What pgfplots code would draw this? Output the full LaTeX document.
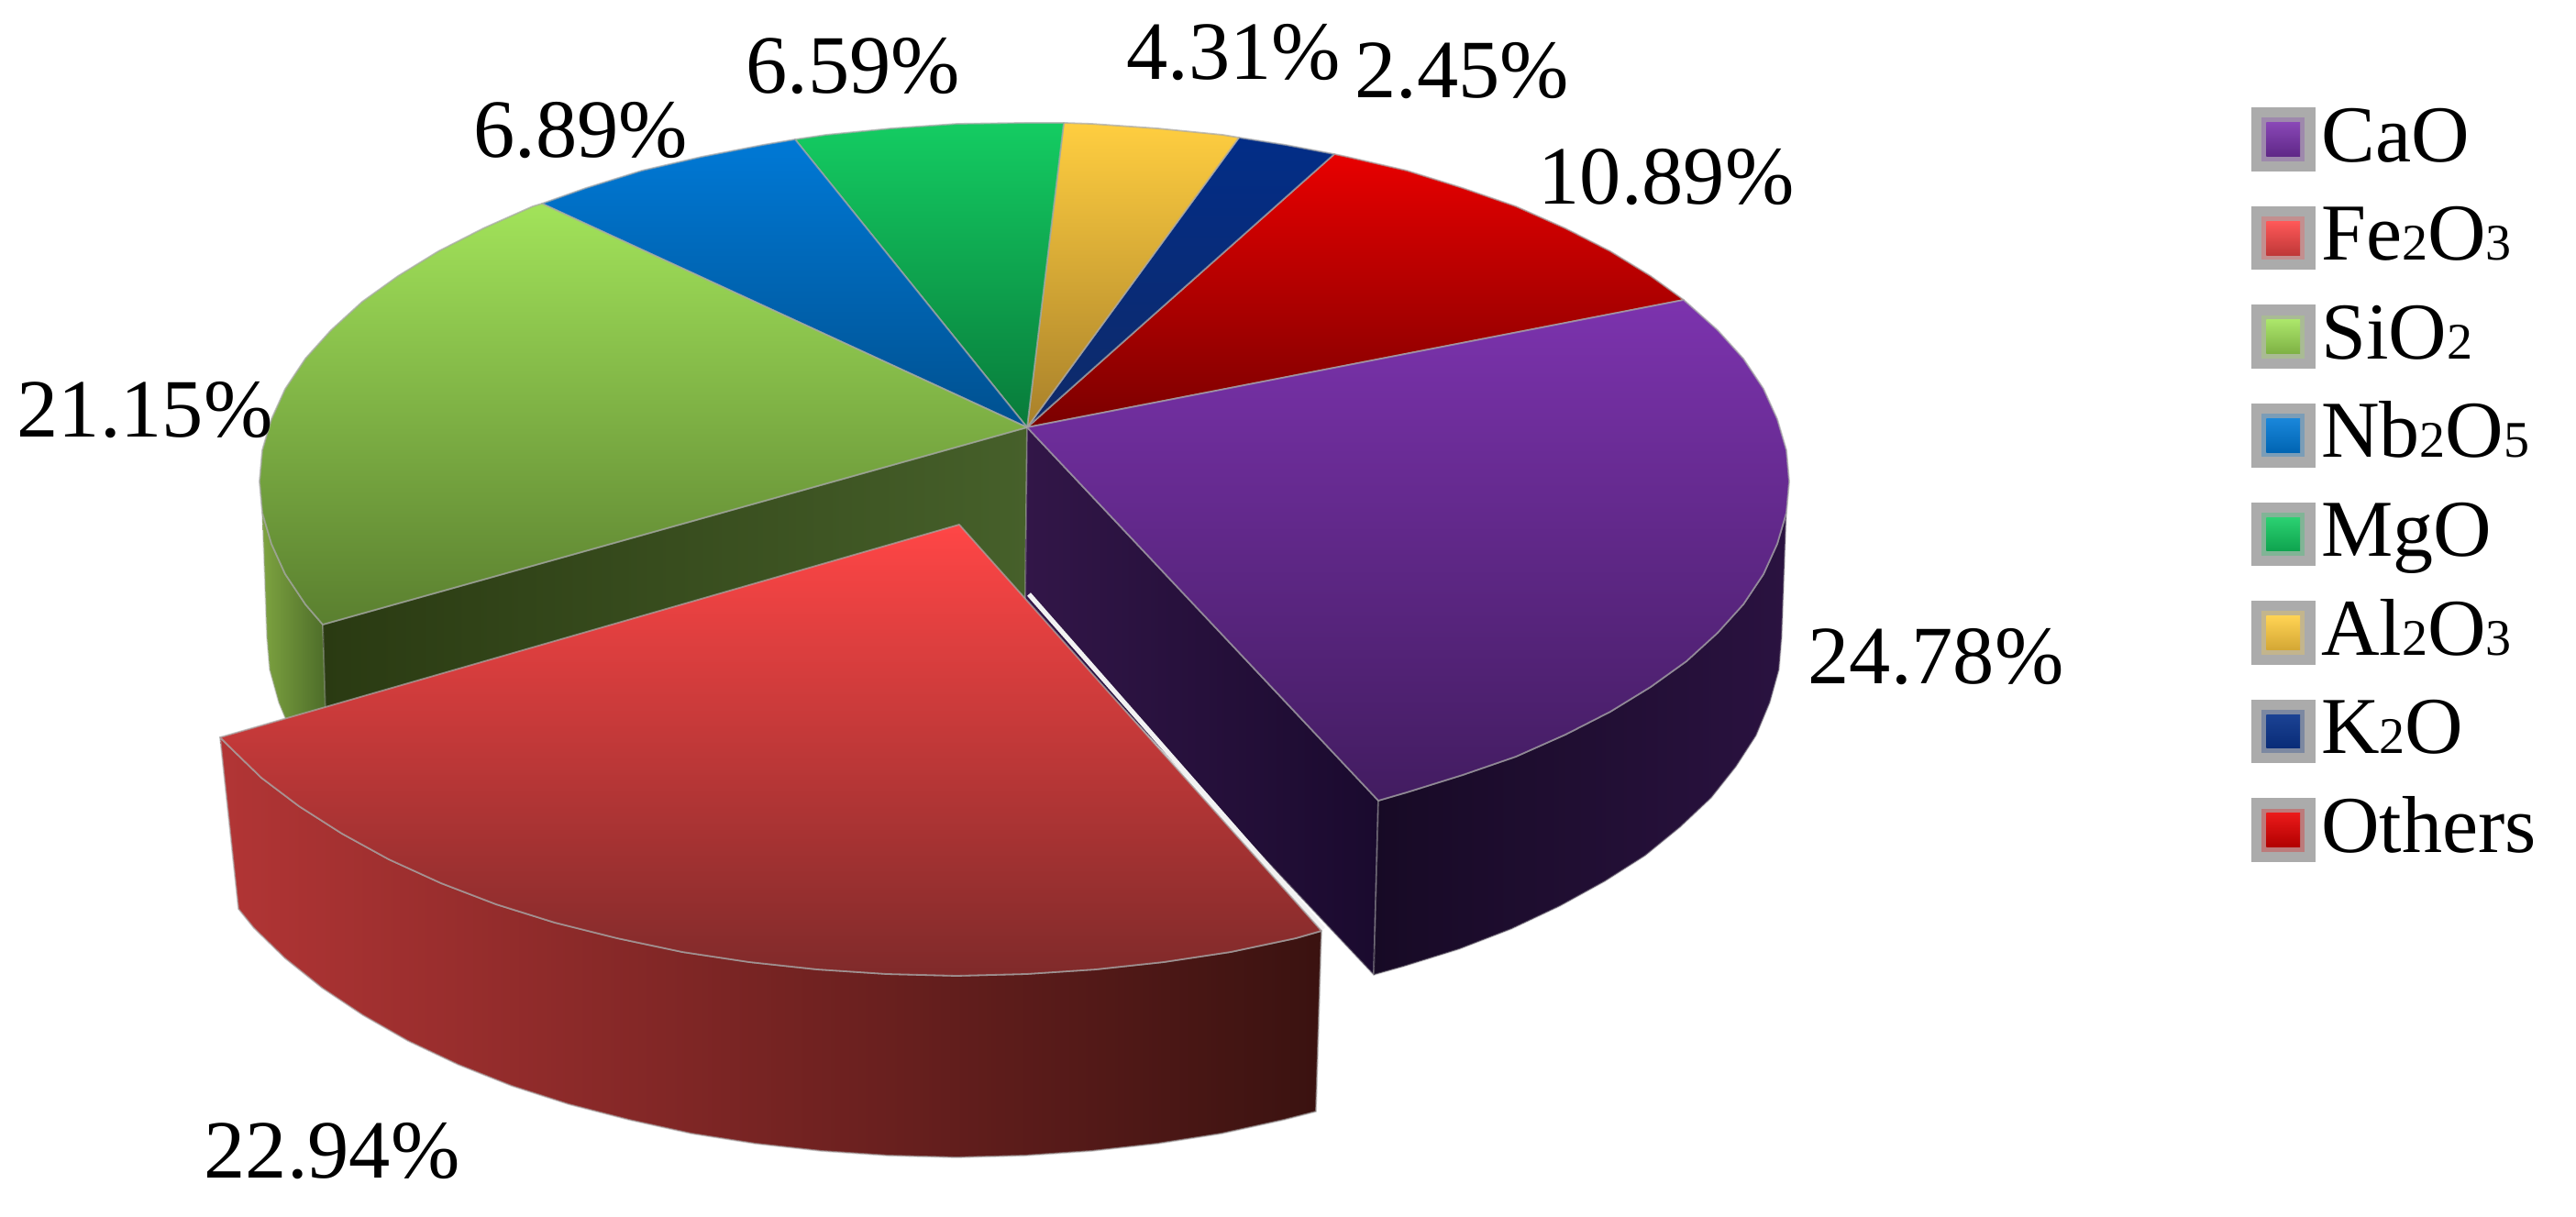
\documentclass[border=0pt]{standalone}
\usepackage{fontspec}
\setmainfont{Liberation Serif}
\usepackage{pgfplots}
\pgfplotsset{compat=1.18}
\definecolor{edge}{HTML}{A8A8A8}
\definecolor{swg}{HTML}{ABABAB}
\definecolor{caoA}{HTML}{7C33AE}\definecolor{caoB}{HTML}{421C60}
\definecolor{feA}{HTML}{FF4646}\definecolor{feB}{HTML}{7F2A2A}
\definecolor{siA}{HTML}{A2E35A}\definecolor{siB}{HTML}{5A7F2F}
\definecolor{nbA}{HTML}{0079D6}\definecolor{nbB}{HTML}{00508F}
\definecolor{mgA}{HTML}{14CC62}\definecolor{mgB}{HTML}{087A3A}
\definecolor{alA}{HTML}{FFCE40}\definecolor{alB}{HTML}{A8802A}
\definecolor{kA}{HTML}{022D87}\definecolor{kB}{HTML}{0F2A68}
\definecolor{otA}{HTML}{E80000}\definecolor{otB}{HTML}{7A0000}
\definecolor{w1}{HTML}{7DA340}\definecolor{w2}{HTML}{648A36}\definecolor{w3}{HTML}{4B6A28}
\definecolor{d1}{HTML}{2A3A12}\definecolor{d2}{HTML}{384D1C}\definecolor{d3}{HTML}{46602A}
\definecolor{r1}{HTML}{321648}\definecolor{r2}{HTML}{26103C}\definecolor{r3}{HTML}{1A0A2E}
\definecolor{o1}{HTML}{170A25}\definecolor{o2}{HTML}{1F0E32}\definecolor{o3}{HTML}{2A1240}
\definecolor{f1}{HTML}{B23535}\definecolor{f2}{HTML}{4C1818}\definecolor{f3}{HTML}{3A1210}
\newcommand{\lab}{\fontsize{22.6}{22.6}\selectfont}
\newcommand{\leg}{\fontsize{22}{22}\selectfont}
\newcommand{\sbs}[1]{{\fontsize{14}{14}\selectfont #1}}
\pgfplotsset{
  slice/.style 2 args={forget plot,draw=edge,draw opacity=.7,line width=.45pt,line join=round,top color=#1,bottom color=#2},
  wall/.style n args={3}{forget plot,draw=edge,draw opacity=.4,line width=.45pt,line join=round,left color=#1,middle color=#2,right color=#3},
  swatch/.style 2 args={legend image code/.code={
    \fill[swg] (0pt,-8.5pt) rectangle (17pt,8.5pt);
    \fill[#1!28!swg,draw=none] (2.6pt,-5.9pt) rectangle (14.4pt,5.9pt);
    \shade[top color=#1!90!white,bottom color=#2!50!#1,draw=none] (3.9pt,-4.6pt) rectangle (13.1pt,4.6pt);
  }},
}
\begin{document}
\begin{tikzpicture}
\begin{axis}[
  scale only axis,width=702.25pt,height=331.75pt,
  xmin=0,xmax=2809,ymin=0,ymax=1327,y dir=reverse,
  hide axis,clip=false,
  legend style={at={(axis cs:2455,108)},anchor=north west,draw=none,fill=none,inner sep=0pt,outer sep=0pt,
    font=\leg,row sep=4.9pt,column sep=1.7pt,
    nodes={inner sep=0pt,text height=17pt,text depth=5pt}},
  legend cell align=left,
]
\addplot[forget plot,draw=none] coordinates {(0,0)(2809,1327)};
% lime outer wall
\addplot[wall={w1}{w2}{w3}] coordinates {(286,559)(296,593)(311,626)(333,659)(352,681)(358,790)(319,802)(304,766)(294,730)(291,694)(288,610)} --cycle;
% dark wall of the lime slice
\addplot[wall={d1}{d2}{d3}] coordinates {(1120,466)(352,681)(358,880)(1118,660)} --cycle;
% purple walls
\addplot[wall={r1}{r2}{r3}] coordinates {(1120,466)(1503,873)(1498,1063)(1118,659)} --cycle;
\addplot[wall={o1}{o2}{o3}] coordinates {(1503,873)(1534,864)(1595,845)(1653,825)(1707,801)(1756,776)(1800,749)(1839,721)(1873,690)(1901,659)(1923,626)(1938,593)(1948,559)(1943,694)(1940,730)(1930,766)(1915,802)(1893,836)(1866,870)(1832,902)(1794,933)(1750,961)(1701,988)(1648,1013)(1591,1035)(1530,1054)(1498,1063)} --cycle;
% tops
\addplot[slice={otA}{otB}] coordinates {(1120,466)(1455,168)(1469,171)(1534,186)(1595,205)(1653,225)(1707,249)(1756,274)(1800,301)(1836,327)} --cycle;
\addplot[slice={kA}{kB}] coordinates {(1120,466)(1351,150)(1402,158)(1455,168)} --cycle;
\addplot[slice={alA}{alB}] coordinates {(1120,466)(1160,134)(1190,135)(1262,140)(1333,147)(1351,150)} --cycle;
\addplot[slice={mgA}{mgB}] coordinates {(1120,466)(867,152)(901,147)(972,140)(1044,135)(1117,134)(1160,134)} --cycle;
\addplot[slice={nbA}{nbB}] coordinates {(1120,466)(591,222)(639,205)(700,186)(765,171)(832,158)(867,152)} --cycle;
\addplot[slice={siA}{siB}] coordinates {(1120,466)(352,681)(333,659)(311,626)(296,593)(286,559)(283,525)(286,491)(296,457)(311,424)(333,391)(361,360)(395,329)(434,301)(478,274)(527,249)(581,225)(591,222)} --cycle;
\addplot[slice={caoA}{caoB}] coordinates {(1120,466)(1836,327)(1873,360)(1901,391)(1923,424)(1938,457)(1948,491)(1951,525)(1948,559)(1938,593)(1923,626)(1901,659)(1873,690)(1839,721)(1800,749)(1756,776)(1707,801)(1653,825)(1595,845)(1534,864)(1503,873)} --cycle;
% gap in front of the purple wall
\addplot[forget plot,draw=white!90!gray,line width=1.3pt] coordinates {(1122,648)(1443,1013)};
% red wall and top
\addplot[wall={f1}{f2}{f3},draw opacity=.6] coordinates {(240,804)(250,814)(285,848)(326,879)(373,909)(424,937)(481,963)(541,986)(605,1006)(673,1023)(744,1038)(817,1049)(891,1057)(967,1062)(1043,1064)(1119,1062)(1195,1057)(1269,1049)(1342,1038)(1413,1023)(1441,1015)(1435,1212)(1400,1221)(1332,1236)(1262,1247)(1190,1255)(1117,1260)(1043,1262)(969,1260)(896,1255)(824,1247)(754,1236)(686,1221)(620,1204)(558,1184)(500,1161)(445,1135)(396,1107)(351,1077)(311,1045)(277,1012)(260,991)} --cycle;
\addplot[slice={feA}{feB}] coordinates {(1046,572)(1441,1015)(1413,1023)(1342,1038)(1269,1049)(1195,1057)(1119,1062)(1043,1064)(967,1062)(891,1057)(817,1049)(744,1038)(673,1023)(605,1006)(541,986)(481,963)(424,937)(373,909)(326,879)(285,848)(250,814)(240,804)} --cycle;
% legend
\addlegendimage{swatch={caoA}{caoB}}\addlegendentry{CaO}
\addlegendimage{swatch={feA}{feB}}\addlegendentry{Fe\sbs{2}O\sbs{3}}
\addlegendimage{swatch={siA}{siB}}\addlegendentry{SiO\sbs{2}}
\addlegendimage{swatch={nbA}{nbB}}\addlegendentry{Nb\sbs{2}O\sbs{5}}
\addlegendimage{swatch={mgA}{mgB}}\addlegendentry{MgO}
\addlegendimage{swatch={alA}{alB}}\addlegendentry{Al\sbs{2}O\sbs{3}}
\addlegendimage{swatch={kA}{kB}}\addlegendentry{K\sbs{2}O}
\addlegendimage{swatch={otA}{otB}}\addlegendentry{Others}
% value labels
\node[anchor=base,inner sep=0pt,font=\lab] at (axis cs:2111,745) {24.78\%};
\node[anchor=base,inner sep=0pt,font=\lab] at (axis cs:362,1284) {22.94\%};
\node[anchor=base,inner sep=0pt,font=\lab] at (axis cs:158,477) {21.15\%};
\node[anchor=base,inner sep=0pt,font=\lab] at (axis cs:633,172) {6.89\%};
\node[anchor=base,inner sep=0pt,font=\lab] at (axis cs:930,102) {6.59\%};
\node[anchor=base,inner sep=0pt,font=\lab] at (axis cs:1345,87) {4.31\%};
\node[anchor=base,inner sep=0pt,font=\lab] at (axis cs:1594,107) {2.45\%};
\node[anchor=base,inner sep=0pt,font=\lab] at (axis cs:1817,223) {10.89\%};
\end{axis}
\end{tikzpicture}
\end{document}
